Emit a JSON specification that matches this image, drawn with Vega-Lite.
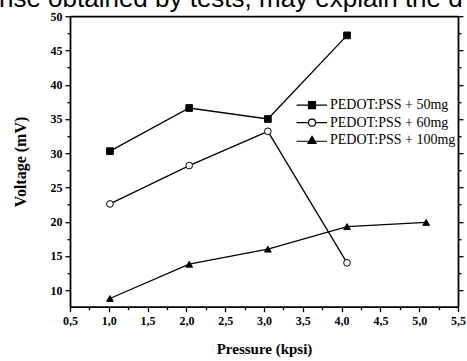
{
  "$schema": "https://vega.github.io/schema/vega-lite/v6.json",
  "width": 388,
  "height": 290.5,
  "autosize": "none",
  "padding": {"left": 70, "top": 16.2, "right": 8.8, "bottom": 54.3},
  "background": "white",
  "title": {
    "text": "nse obtained by tests, may explain the d",
    "font": "Liberation Sans",
    "fontSize": 26,
    "fontWeight": "normal",
    "color": "#000",
    "anchor": "start",
    "frame": "group",
    "dx": -71,
    "dy": 28,
    "offset": 5,
    "baseline": "alphabetic"
  },
  "config": {
    "view": {"stroke": null},
    "axis": {
      "domainColor": "#000",
      "domainWidth": 1.8,
      "tickColor": "#000",
      "tickWidth": 1.3,
      "labelColor": "#000",
      "titleColor": "#000",
      "labelFont": "Liberation Serif",
      "titleFont": "Liberation Serif",
      "labelFontWeight": "bold",
      "titleFontWeight": "bold",
      "grid": false,
      "labelFlush": false,
      "labelOverlap": false
    },
    "legend": {
      "title": null,
      "orient": "none",
      "legendX": 235,
      "legendY": 82,
      "padding": 0,
      "labelFont": "Liberation Serif",
      "labelFontSize": 14,
      "labelColor": "#000",
      "labelOffset": 11,
      "rowPadding": 3.5,
      "symbolSize": 49,
      "symbolStrokeWidth": 1.2,
      "symbolStrokeColor": "#000",
      "symbolOpacity": 1
    }
  },
  "datasets": {
    "d": [
      {"p": 1.015, "v": 30.3, "s": "PEDOT:PSS + 50mg"},
      {"p": 2.036, "v": 36.6, "s": "PEDOT:PSS + 50mg"},
      {"p": 3.05, "v": 35.0, "s": "PEDOT:PSS + 50mg"},
      {"p": 4.07, "v": 47.2, "s": "PEDOT:PSS + 50mg"},
      {"p": 1.015, "v": 22.6, "s": "PEDOT:PSS + 60mg"},
      {"p": 2.036, "v": 28.2, "s": "PEDOT:PSS + 60mg"},
      {"p": 3.05, "v": 33.2, "s": "PEDOT:PSS + 60mg"},
      {"p": 4.07, "v": 14.0, "s": "PEDOT:PSS + 60mg"},
      {"p": 1.015, "v": 8.8, "s": "PEDOT:PSS + 100mg"},
      {"p": 2.036, "v": 13.8, "s": "PEDOT:PSS + 100mg"},
      {"p": 3.05, "v": 16.0, "s": "PEDOT:PSS + 100mg"},
      {"p": 4.07, "v": 19.3, "s": "PEDOT:PSS + 100mg"},
      {"p": 5.09, "v": 19.9, "s": "PEDOT:PSS + 100mg"}
    ]
  },
  "data": {"name": "d"},
  "resolve": {
    "scale": {"shape": "independent", "fill": "independent", "stroke": "independent"},
    "axis": {"x": "independent", "y": "independent"}
  },
  "layer": [
    {
      "mark": {"type": "line", "color": "#000", "strokeWidth": 1.3},
      "encoding": {
        "x": {
          "field": "p", "type": "quantitative",
          "scale": {"domain": [0.5, 5.5], "nice": false, "zero": false},
          "axis": {
            "orient": "bottom",
            "values": [0.5, 0.75, 1, 1.25, 1.5, 1.75, 2, 2.25, 2.5, 2.75, 3, 3.25, 3.5, 3.75, 4, 4.25, 4.5, 4.75, 5, 5.25, 5.5],
            "labelExpr": "(datum.value*4) % 2 === 0 ? replace(format(datum.value, '.1f'), '.', ',') : ''",
            "tickSize": {"condition": {"test": "(datum.value*4) % 2 === 0", "value": 5}, "value": 3},
            "labelFontSize": 12,
            "labelPadding": 4,
            "title": "Pressure (kpsi)",
            "titleFontSize": 15,
            "titlePadding": 15
          }
        },
        "y": {
          "field": "v", "type": "quantitative",
          "scale": {"domain": [7.6, 50], "nice": false, "zero": false},
          "axis": {
            "orient": "left",
            "values": [10, 12.5, 15, 17.5, 20, 22.5, 25, 27.5, 30, 32.5, 35, 37.5, 40, 42.5, 45, 47.5, 50],
            "labelExpr": "datum.value % 5 === 0 ? datum.label : ''",
            "tickSize": {"condition": {"test": "datum.value % 5 === 0", "value": 5}, "value": 3},
            "labelFontSize": 12,
            "labelPadding": 3,
            "title": "Voltage (mV)",
            "titleFontSize": 16,
            "titlePadding": 21
          }
        },
        "detail": {"field": "s"}
      }
    },
    {
      "mark": {"type": "point", "filled": true, "stroke": "#000", "strokeWidth": 1, "opacity": 1, "size": 45},
      "encoding": {
        "x": {
          "field": "p", "type": "quantitative",
          "axis": {"orient": "top", "labels": false, "ticks": false, "title": null, "domain": true}
        },
        "y": {
          "field": "v", "type": "quantitative",
          "axis": {
            "orient": "right",
            "labels": false,
            "title": null,
            "values": [10, 12.5, 15, 17.5, 20, 22.5, 25, 27.5, 30, 32.5, 35, 37.5, 40, 42.5, 45, 47.5, 50],
            "tickSize": {"condition": {"test": "datum.value % 5 === 0", "value": 5}, "value": 3}
          }
        },
        "shape": {
          "field": "s",
          "scale": {"domain": ["PEDOT:PSS + 50mg", "PEDOT:PSS + 60mg", "PEDOT:PSS + 100mg"], "range": ["square", "circle", "triangle-up"]},
          "legend": null
        },
        "fill": {
          "field": "s",
          "scale": {"domain": ["PEDOT:PSS + 50mg", "PEDOT:PSS + 60mg", "PEDOT:PSS + 100mg"], "range": ["#000", "#fff", "#000"]},
          "legend": null
        }
      }
    },
    {
      "transform": [{"filter": "false"}],
      "mark": {"type": "point", "filled": true, "strokeWidth": 1.2, "opacity": 1, "size": 49},
      "encoding": {
        "x": {"field": "p", "type": "quantitative", "axis": null},
        "y": {"field": "v", "type": "quantitative", "axis": null},
        "shape": {
          "field": "s",
          "scale": {
            "domain": ["PEDOT:PSS + 50mg", "PEDOT:PSS + 60mg", "PEDOT:PSS + 100mg"],
            "range": [
              "M-4.4,0H-1M1,0H4.3M-1,-1H1V1H-1Z",
              "M-4.4,0H-1M1,0H4.3M1,0A1,1 0 1,1 -1,0A1,1 0 1,1 1,0Z",
              "M-4.4,0.3H-1M1,0.3H4.3M0,-1.1L1.15,0.9H-1.15Z"
            ]
          },
          "legend": {}
        },
        "fill": {
          "field": "s",
          "scale": {"domain": ["PEDOT:PSS + 50mg", "PEDOT:PSS + 60mg", "PEDOT:PSS + 100mg"], "range": ["#000", "#fff", "#000"]},
          "legend": {}
        },
        "stroke": {
          "field": "s",
          "scale": {"domain": ["PEDOT:PSS + 50mg", "PEDOT:PSS + 60mg", "PEDOT:PSS + 100mg"], "range": ["#000", "#000", "#000"]},
          "legend": {}
        }
      }
    }
  ]
}
